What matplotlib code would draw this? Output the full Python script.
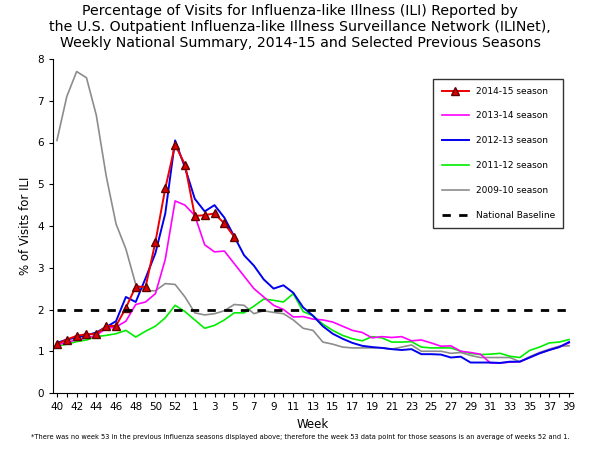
import matplotlib
matplotlib.use("Agg")
import matplotlib.pyplot as plt

week_labels = [str(w) for w in list(range(40, 54)) + list(range(1, 40))]
s1415 = [1.17,1.28,1.37,1.41,1.41,1.6,1.61,2.04,2.55,2.54,3.62,4.9,5.95,5.47,4.24,4.26,4.3,4.06,3.74]
s1314 = [1.15,1.22,1.27,1.32,1.38,1.55,1.58,1.72,2.12,2.18,2.38,3.2,4.6,4.5,4.25,3.55,3.38,3.4,3.1,2.8,2.5,2.3,2.1,2.0,1.82,1.83,1.77,1.75,1.7,1.6,1.5,1.45,1.32,1.35,1.33,1.35,1.25,1.27,1.2,1.12,1.13,1.0,0.97,0.93,0.72,0.72,0.74,0.75,0.85,0.95,1.03,1.1,1.2]
s1213 = [1.2,1.28,1.33,1.38,1.45,1.58,1.72,2.3,2.18,2.75,3.35,4.3,6.05,5.4,4.65,4.35,4.5,4.2,3.75,3.3,3.05,2.72,2.5,2.58,2.4,2.05,1.85,1.6,1.42,1.3,1.2,1.13,1.1,1.08,1.05,1.03,1.05,0.93,0.93,0.92,0.85,0.87,0.73,0.73,0.73,0.72,0.75,0.75,0.85,0.95,1.03,1.1,1.22]
s1112 = [1.12,1.17,1.23,1.27,1.35,1.38,1.42,1.5,1.34,1.48,1.6,1.8,2.1,1.95,1.75,1.55,1.62,1.75,1.92,1.92,2.08,2.25,2.22,2.18,2.38,1.95,1.85,1.65,1.5,1.38,1.3,1.25,1.35,1.32,1.22,1.22,1.23,1.1,1.08,1.08,1.08,1.0,0.95,0.92,0.93,0.95,0.88,0.85,1.02,1.1,1.2,1.22,1.28]
s0910 = [6.05,7.1,7.7,7.55,6.65,5.2,4.05,3.45,2.6,2.45,2.45,2.62,2.6,2.3,1.92,1.87,1.9,1.97,2.12,2.1,1.9,1.97,1.93,1.9,1.75,1.55,1.5,1.22,1.17,1.1,1.08,1.08,1.08,1.08,1.05,1.1,1.15,1.0,1.0,1.0,0.95,0.97,0.9,0.85,0.85,0.85,0.85,0.75,0.87,0.97,1.05,1.12,1.13]
baseline = 2.0

fig = plt.figure(figsize=(6, 4.5), dpi=100)
ax = fig.add_axes([53/600, 1-393/450, 520/600, 334/450])
x = range(len(week_labels))
ax.plot(range(len(s0910)), s0910, color="#8c8c8c", lw=1.2, label="2009-10 season")
ax.plot(range(len(s1112)), s1112, color="#00ee00", lw=1.2, label="2011-12 season")
ax.plot(range(len(s1314)), s1314, color="#ff00ff", lw=1.2, label="2013-14 season")
ax.plot(range(len(s1213)), s1213, color="#0000ee", lw=1.4, label="2012-13 season")
ax.plot(range(len(s1415)), s1415, color="#ee0000", lw=1.4, marker="^", ms=6,
        mfc="#dd0000", mec="#600000", label="2014-15 season")
ax.plot([0, len(week_labels)-1], [baseline]*2, color="black", ls=(0, (3, 3)), lw=2, label="National Baseline")
ax.set_xlim(-0.4, len(week_labels)-1+0.4)
ax.set_ylim(0, 8)
ax.set_xticks(list(x))
ax.set_xticklabels([l if i % 2 == 0 else "" for i, l in enumerate(week_labels)], fontsize=7.5)
ax.set_yticks(range(9))
ax.tick_params(axis="y", labelsize=7.5, length=3)
ax.tick_params(axis="x", length=3)
for s in ["top", "right"]:
    ax.spines[s].set_visible(False)
ax.set_xlabel("Week", fontsize=8.5)
ax.set_ylabel("% of Visits for ILI", fontsize=8.5)
h, l = ax.get_legend_handles_labels()
order = [4, 2, 3, 1, 0, 5]
leg = ax.legend([h[i] for i in order], [l[i] for i in order], loc="upper right",
                bbox_to_anchor=(0.99, 0.955), fontsize=6.5, fancybox=False, edgecolor="black",
                labelspacing=1.75, borderpad=0.9, handlelength=3)
fig.suptitle("Percentage of Visits for Influenza-like Illness (ILI) Reported by\n"
             "the U.S. Outpatient Influenza-like Illness Surveillance Network (ILINet),\n"
             "Weekly National Summary, 2014-15 and Selected Previous Seasons",
             y=0.99, fontsize=10.2, linespacing=1.15)
fig.text(0.5, 0.025, "*There was no week 53 in the previous influenza seasons displayed above; therefore the week 53 data point for those seasons is an average of weeks 52 and 1.",
         ha="center", fontsize=4.8)
fig.savefig("out.png", dpi=100)
